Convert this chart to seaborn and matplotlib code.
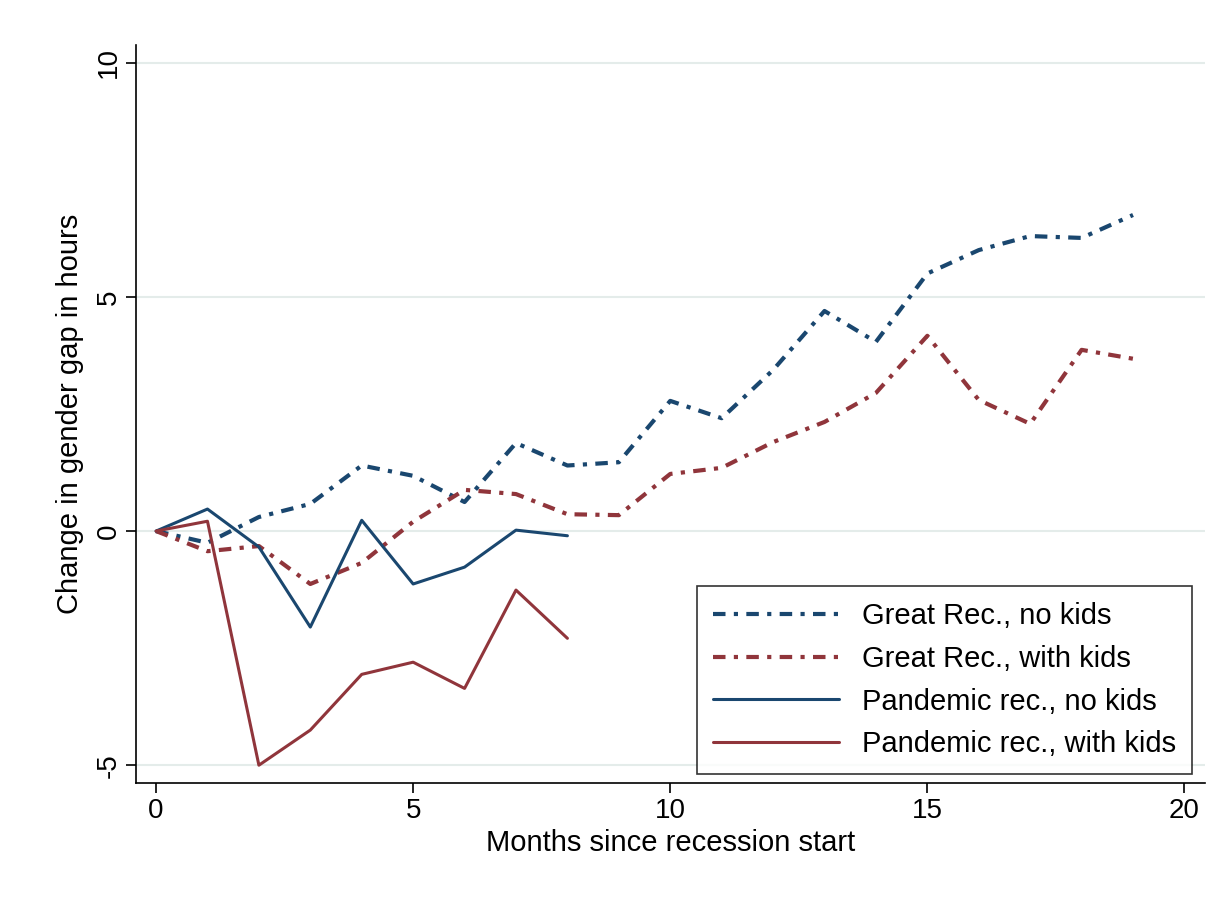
import numpy as np
import matplotlib.pyplot as plt
import seaborn as sns

months_gr = list(range(20))
gr_no_kids = [0, -0.25, 0.3, 0.58, 1.4, 1.18, 0.62, 1.88, 1.4, 1.47, 2.78, 2.41,
              3.44, 4.7, 4.04, 5.5, 6.0, 6.3, 6.26, 6.75]
gr_with_kids = [0, -0.43, -0.32, -1.13, -0.68, 0.2, 0.88, 0.79, 0.36, 0.34, 1.22,
                1.35, 1.9, 2.33, 2.95, 4.17, 2.8, 2.29, 3.87, 3.68]
months_pan = list(range(9))
pan_no_kids = [0, 0.47, -0.34, -2.05, 0.23, -1.13, -0.77, 0.02, -0.1]
pan_with_kids = [0, 0.21, -5.0, -4.25, -3.06, -2.8, -3.36, -1.26, -2.29]

navy = "#1a476f"
maroon = "#90353b"

sns.set_theme(style="white")
plt.rcParams['font.family'] = ['Liberation Sans', 'DejaVu Sans']
plt.rcParams['axes.unicode_minus'] = False
plt.rcParams['text.color'] = 'black'
plt.rcParams['axes.labelcolor'] = 'black'

fig = plt.figure(figsize=(12.25, 9.0), dpi=100)
ax = fig.add_axes([136 / 1225, 117 / 900, (1205 - 136) / 1225, (783 - 45) / 900])

dashdot = (0, (3, 2, 1, 2))
sns.lineplot(x=months_gr, y=gr_no_kids, ax=ax, color=navy, lw=3, linestyle=dashdot,
             label="Great Rec., no kids")
sns.lineplot(x=months_gr, y=gr_with_kids, ax=ax, color=maroon, lw=3, linestyle=dashdot,
             label="Great Rec., with kids")
sns.lineplot(x=months_pan, y=pan_no_kids, ax=ax, color=navy, lw=2.2,
             label="Pandemic rec., no kids")
sns.lineplot(x=months_pan, y=pan_with_kids, ax=ax, color=maroon, lw=2.2,
             label="Pandemic rec., with kids")

ax.set_xlim(-0.39, 20.4)
ax.set_ylim(-5.38, 10.38)
ax.set_xticks([0, 5, 10, 15, 20])
ax.set_yticks([-5, 0, 5, 10])
for y in [-5, 0, 5, 10]:
    ax.axhline(y, color="#e4ecea", lw=1.5, zorder=0)
ax.tick_params(axis="both", direction="out", length=7, width=1.2, labelsize=20,
               bottom=True, left=True, colors="black")
plt.setp(ax.get_yticklabels(), rotation=90, va="center")
for s in ["top", "right"]:
    ax.spines[s].set_visible(False)
for s in ["left", "bottom"]:
    ax.spines[s].set_color("black")
    ax.spines[s].set_linewidth(1.2)
ax.set_xlabel("Months since recession start", fontsize=21, labelpad=4)
ax.set_ylabel("Change in gender gap in hours", fontsize=21, labelpad=8)

leg = ax.legend(loc="lower right", bbox_to_anchor=(0.988, 0.012), fontsize=21,
                frameon=True, fancybox=False, edgecolor="black", handlelength=4.3,
                borderpad=0.55, labelspacing=0.5, borderaxespad=0)
leg.get_frame().set_linewidth(1.2)

fig.savefig("out.png", dpi=100)
